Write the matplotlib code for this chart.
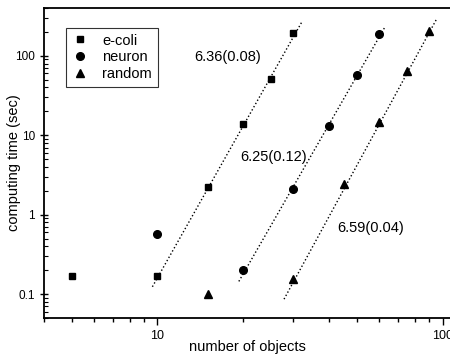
import numpy as np
import matplotlib
matplotlib.use('Agg')
import matplotlib.pyplot as plt
from matplotlib.ticker import LogLocator, NullFormatter, FixedLocator, FixedFormatter

plt.rcParams['font.family'] = ['Liberation Sans', 'DejaVu Sans']

# measured points
ecoli_x = [5, 10, 15, 20, 25, 30]
ecoli_y = [0.17, 0.17, 2.2, 13.8, 51, 196]
neuron_x = [10, 20, 30, 40, 50, 60]
neuron_y = [0.57, 0.2, 2.1, 13, 57, 190]
random_x = [15, 30, 45, 60, 75, 90]
random_y = [0.1, 0.155, 2.4, 14.6, 65, 207]

# fitted lines: log10(t) = a + b*log10(n), over n range
fit_slopes = [6.36, 6.25, 6.59]
fit_icepts = [-7.155, -8.875, -10.58]
fit_ranges = [(9.6, 32.1), (19.3, 62.5), (27.8, 95.3)]
fit_labels = ['6.36(0.08)', '6.25(0.12)', '6.59(0.04)']
label_pos = [(13.5, 97), (19.5, 5.25), (42.7, 0.68)]

fig = plt.figure(figsize=(4.5, 3.56), dpi=100)
ax = fig.add_axes([44/450, 38/356, 1 - 44/450 + 0.002, 310/356])

ax.plot(ecoli_x, ecoli_y, 's', color='black', ms=5, label='e-coli')
ax.plot(neuron_x, neuron_y, 'o', color='black', ms=5.5, label='neuron')
ax.plot(random_x, random_y, '^', color='black', ms=5.5, label='random')

for b, a, (lo, hi), txt, (tx, ty) in zip(fit_slopes, fit_icepts, fit_ranges, fit_labels, label_pos):
    xs = np.array([lo, hi])
    ax.plot(xs, 10 ** (a + b * np.log10(xs)), ':', color='black', lw=1.0)
    ax.text(tx, ty, txt, fontsize=10.5, va='center', ha='left')

ax.set_xscale('log')
ax.set_yscale('log')
ax.set_xlim(4, 107)
ax.set_ylim(0.05, 400)

ax.xaxis.set_major_locator(FixedLocator([10, 100]))
ax.xaxis.set_major_formatter(FixedFormatter(['10', '100']))
ax.xaxis.set_minor_locator(LogLocator(base=10, subs=np.arange(2, 10)))
ax.xaxis.set_minor_formatter(NullFormatter())
ax.yaxis.set_major_locator(FixedLocator([0.1, 1, 10, 100]))
ax.yaxis.set_major_formatter(FixedFormatter(['0.1', '1', '10', '100']))
ax.yaxis.set_minor_locator(LogLocator(base=10, subs=np.arange(2, 10)))
ax.yaxis.set_minor_formatter(NullFormatter())

ax.tick_params(axis='x', which='major', direction='out', length=5, width=1, labelsize=9)
ax.tick_params(axis='x', which='minor', direction='out', length=3, width=1)
ax.tick_params(axis='y', which='major', direction='inout', length=6, width=1, labelsize=8.5)
ax.tick_params(axis='y', which='minor', direction='in', length=3, width=0.8)

for s in ['left', 'bottom', 'top']:
    ax.spines[s].set_linewidth(1.3)
ax.spines['right'].set_visible(False)

ax.set_xlabel('number of objects', fontsize=10.5, labelpad=-1)
ax.set_ylabel('computing time (sec)', fontsize=10.5, labelpad=-4)

leg = ax.legend(loc='upper left', bbox_to_anchor=(0.035, 0.96), fontsize=10.5,
                frameon=True, fancybox=False, edgecolor='black', handletextpad=0.9,
                labelspacing=0.2, borderpad=0.4, handlelength=1.2)
leg.get_frame().set_linewidth(0.8)

fig.savefig('out.png', dpi=100)
